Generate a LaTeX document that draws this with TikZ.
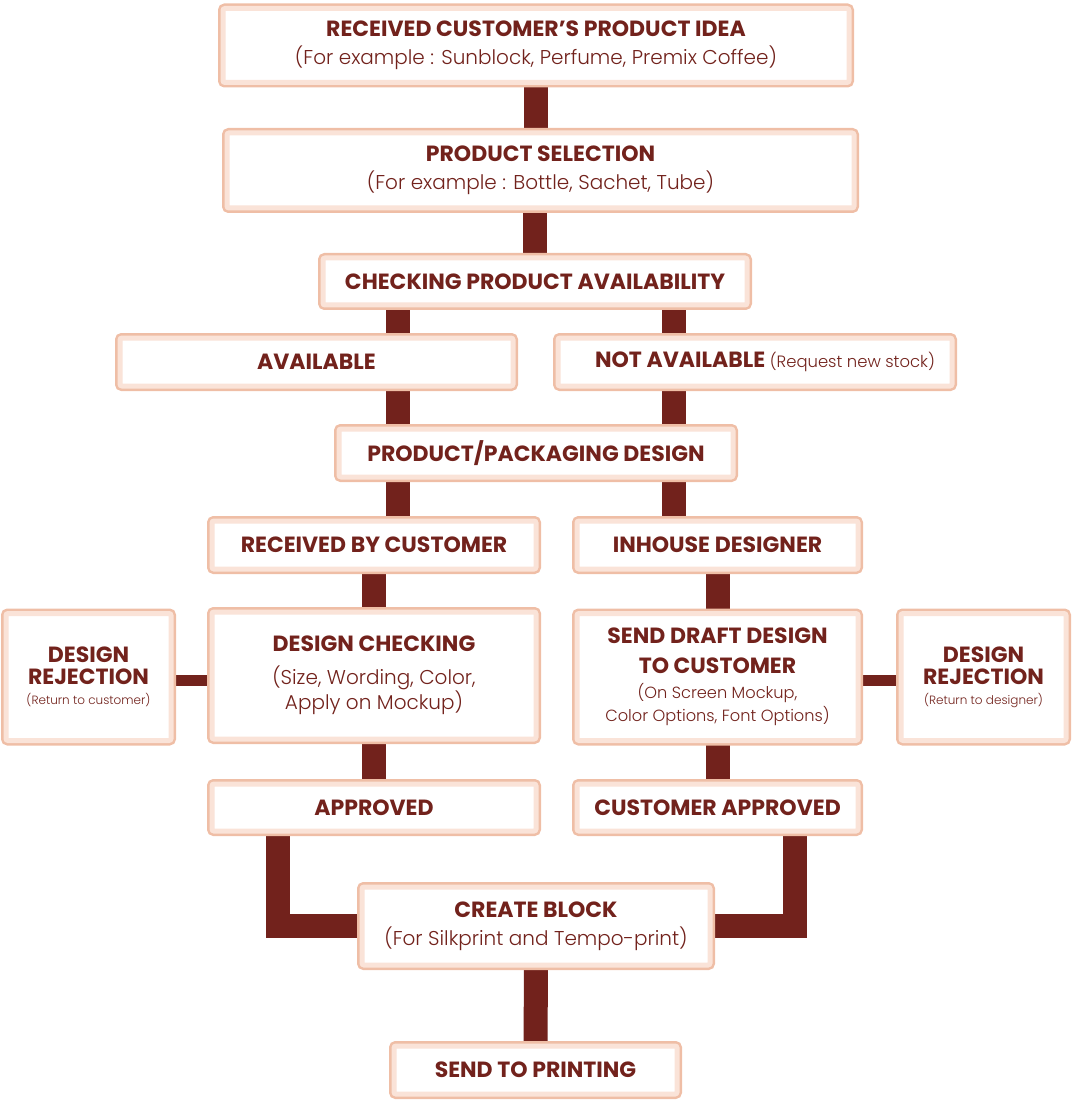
\documentclass[tikz,border=0pt]{standalone}
\usepackage{fontspec}
\setmainfont{Poppins}
\newfontfamily\lightfont{Poppins Light}
\usetikzlibrary{backgrounds}

\definecolor{maroon}{HTML}{72221C}
\definecolor{ringdark}{HTML}{EFBEA6}
\definecolor{ringlight}{HTML}{FAE3D8}

\newcommand\subtxt[2][10]{{\lightfont\mdseries\fontsize{#1}{#1pt}\selectfont #2}}

\tikzset{
    box/.style 2 args={
        rounded corners=1pt, fill=white, draw=ringlight, line width=2.5pt,
        preaction={draw=ringdark, line width=5pt},
        minimum width={(#1-10)*0.5pt}, minimum height={(#2-10)*0.5pt},
        inner sep=0pt, align=center, text=maroon,
        font=\bfseries\fontsize{11}{14}\selectfont},
    bar/.style={draw=maroon, line width=12pt},
    thinbar/.style={draw=maroon, line width=5.5pt},
}

\begin{document}
\begin{tikzpicture}[x=0.5pt, y=-0.5pt]
    \useasboundingbox (0,0) rectangle (1072,1101);

    \node [box={636}{84}] (idea) at (536,45.5)
        {RECEIVED CUSTOMER’S PRODUCT IDEA\\
         \subtxt{(For example : Sunblock, Perfume, Premix Coffee)}};
    \node [box={637}{85}] (select) at (540.5,170.5)
        {PRODUCT SELECTION\\
         \subtxt{(For example : Bottle, Sachet, Tube)}};
    \node [box={434}{57}] (check) at (535,281.5)
        {CHECKING PRODUCT AVAILABILITY};
    \node [box={403}{58}] (avail) at (316.5,362) {AVAILABLE};
    \node [box={404}{58}] (notavail) at (755,362)
        {\hspace*{10pt}NOT AVAILABLE \subtxt[8.2]{(Request new stock)}};
    \node [box={404}{58}] (design) at (536,453)
        {PRODUCT/PACKAGING DESIGN};
    \node [box={334}{58}] (recv) at (374,545) {RECEIVED BY CUSTOMER};
    \node [box={291}{58}] (inhouse) at (717.5,545) {INHOUSE DESIGNER};

    \node [box={175}{137}, font=\bfseries\fontsize{11}{11}\selectfont]
        (rejleft) at (88.5,677)
        {DESIGN\\REJECTION\\[-1pt]
         \subtxt[6]{(Return to customer)}};
    \node [box={334}{137}] (dcheck) at (374,675.5)
        {DESIGN CHECKING\\[2.5pt]
         \subtxt[10]{(Size, Wording, Color,}\\[-1.5pt]
         \subtxt[10]{Apply on Mockup)}};
    \node [box={291}{137}, font=\bfseries\fontsize{11}{15}\selectfont]
        (draft) at (717.5,677)
        {SEND DRAFT DESIGN\\TO CUSTOMER\\[-2.5pt]
         \subtxt[8.1]{(On Screen Mockup,}\\[-3.5pt]
         \subtxt[8.1]{Color Options, Font Options)}};
    \node [box={175}{137}, font=\bfseries\fontsize{11}{11}\selectfont]
        (rejright) at (983.5,677)
        {DESIGN\\REJECTION\\[-1pt]
         \subtxt[6]{(Return to designer)}};

    \node [box={334}{57}] (appr) at (374,807.5) {APPROVED};
    \node [box={291}{57}] (custappr) at (717.5,807.5) {CUSTOMER APPROVED};
    \node [box={358}{88}] (block) at (536,926)
        {CREATE BLOCK\\
         \subtxt{(For Silkprint and Tempo-print)}};
    \node [box={293}{58}] (print) at (535.5,1070) {SEND TO PRINTING};

    \begin{scope}[on background layer]
        \draw [bar] (idea.south) -- (idea.south |- select.north);
        \draw [bar] (check.north) -- (check.north |- select.south);
        \draw [bar] (398,0 |- check.south) -- (398,0 |- avail.north);
        \draw [bar] (674,0 |- check.south) -- (674,0 |- notavail.north);
        \draw [bar] (398,0 |- avail.south) -- (398,0 |- design.north);
        \draw [bar] (674,0 |- notavail.south) -- (674,0 |- design.north);
        \draw [bar] (398,0 |- design.south) -- (398,0 |- recv.north);
        \draw [bar] (674,0 |- design.south) -- (674,0 |- inhouse.north);
        \draw [bar] (recv.south) -- (recv.south |- dcheck.north);
        \draw [bar] (inhouse.south) -- (inhouse.south |- draft.north);
        \draw [bar] (dcheck.south) -- (dcheck.south |- appr.north);
        \draw [bar] (draft.south) -- (draft.south |- custappr.north);
        \draw [thinbar] (rejleft.east |- 0,680) -- (dcheck.west |- 0,680);
        \draw [thinbar] (draft.east |- 0,680) -- (rejright.west |- 0,680);
        \draw [bar] (278,0 |- appr.south) |- (block.west);
        \draw [bar] (795,0 |- custappr.south) |- (block.east);
        \draw [bar] (block.south) -- (print.north);
    \end{scope}
\end{tikzpicture}
\end{document}
